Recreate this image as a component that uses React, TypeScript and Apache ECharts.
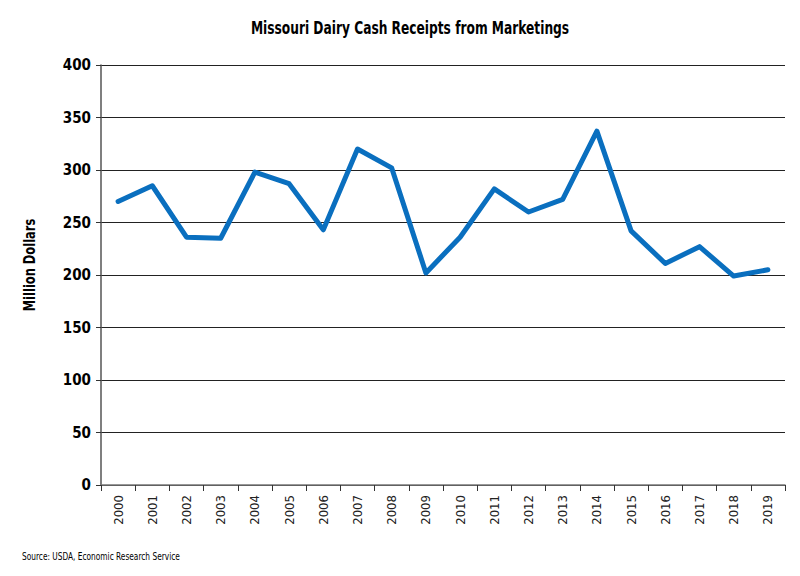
import React, { useEffect, useRef } from "react";
import * as echarts from "echarts";

const years = ["2000","2001","2002","2003","2004","2005","2006","2007","2008","2009","2010","2011","2012","2013","2014","2015","2016","2017","2018","2019"];
const receipts = [270, 285, 236, 235, 298, 287, 243, 320, 302, 202, 236, 282, 260, 272, 337, 242, 211, 227, 199, 205];
const yTicks = [0, 50, 100, 150, 200, 250, 300, 350, 400];

const FONT = "'DejaVu Sans Condensed', 'Liberation Sans Narrow', sans-serif";

export default function App() {
  const ref = useRef<HTMLDivElement>(null);
  useEffect(() => {
    const chart = echarts.init(ref.current!, undefined, { renderer: "svg" });
    chart.setOption({
      animation: false,
      backgroundColor: "#ffffff",
      graphic: [
        {
          type: "text",
          x: 410,
          y: 28,
          scaleX: 0.8,
          style: {
            text: "Missouri Dairy Cash Receipts from Marketings",
            fontFamily: FONT, fontSize: 17, fontWeight: "bold", fill: "#000",
            align: "center", verticalAlign: "middle",
          },
        },
        {
          type: "text",
          x: 30,
          y: 265,
          rotation: Math.PI / 2,
          scaleX: 0.85,
          style: {
            text: "Million Dollars",
            fontFamily: FONT, fontSize: 15, fontWeight: "bold", fill: "#000",
            align: "center", verticalAlign: "middle",
          },
        },
        {
          type: "text",
          x: 22,
          y: 556,
          scaleX: 0.75,
          style: {
            text: "Source: USDA, Economic Research Service",
            fontFamily: FONT, fontSize: 11, fill: "#000",
            align: "left", verticalAlign: "middle",
          },
        },
      ],
      grid: { left: 101, right: 15, top: 65, bottom: 91 },
      xAxis: {
        type: "category",
        data: years,
        boundaryGap: true,
        axisLine: { lineStyle: { color: "#777", width: 1.5 } },
        axisTick: { show: true, alignWithLabel: false, length: 6, lineStyle: { color: "#333" } },
        axisLabel: { rotate: 90, fontFamily: FONT, fontSize: 13, color: "#222", margin: 10 },
      },
      yAxis: {
        type: "value",
        min: yTicks[0],
        max: yTicks[yTicks.length - 1],
        interval: 50,
        axisLine: { show: true, lineStyle: { color: "#555", width: 1.5 } },
        axisTick: { show: true, length: 5, lineStyle: { color: "#333" } },
        axisLabel: { fontFamily: FONT, fontSize: 15, fontWeight: "bold", color: "#000", margin: 10 },
        splitLine: { show: true, lineStyle: { color: "#222", width: 1 } },
      },
      series: [
        {
          type: "line",
          data: receipts,
          symbol: "none",
          lineStyle: { color: "#0a6fbf", width: 5, cap: "round", join: "round" },
        },
      ],
    });
    return () => chart.dispose();
  }, []);
  return <div ref={ref} style={{ position: "fixed", left: 0, top: 0, width: 800, height: 576 }} />;
}
